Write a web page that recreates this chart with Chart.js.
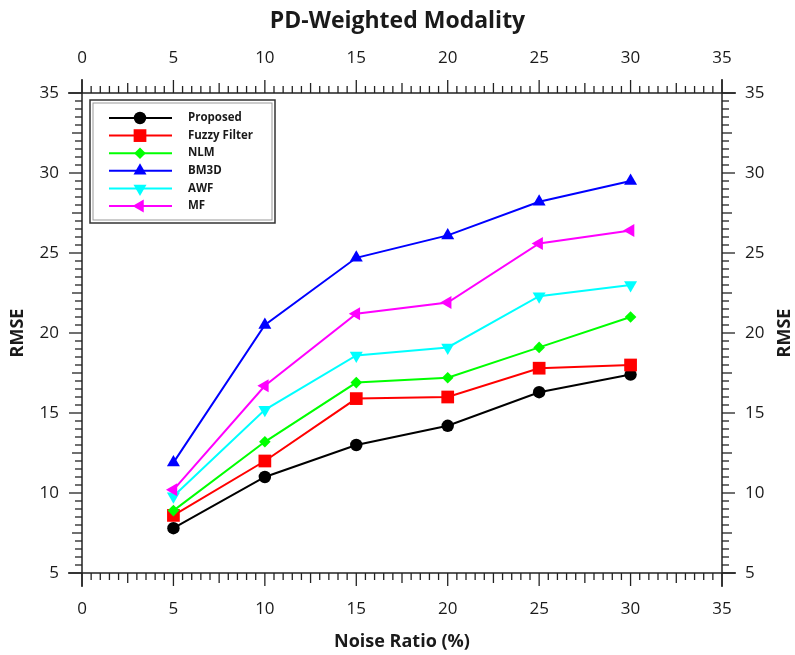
<!DOCTYPE html>
<html>
<head>
<meta charset="utf-8">
<script src="https://cdn.jsdelivr.net/npm/chart.js@4.4.1/dist/chart.umd.min.js"></script>
<style>
html, body { margin: 0; padding: 0; background: #fff; }
#wrap { width: 795px; height: 655px; }
</style>
</head>
<body>
<div id="wrap"><canvas id="chart" width="795" height="655"></canvas></div>
<script>
// values
var noiseRatio = [5, 10, 15, 20, 25, 30];
var proposed   = [7.8, 11.0, 13.0, 14.2, 16.3, 17.4];
var fuzzy      = [8.6, 12.0, 15.9, 16.0, 17.8, 18.0];
var nlm        = [8.9, 13.2, 16.9, 17.2, 19.1, 21.0];
var bm3d       = [11.9, 20.5, 24.7, 26.1, 28.2, 29.5];
var awf        = [9.8, 15.2, 18.6, 19.1, 22.3, 23.0];
var mf         = [10.2, 16.7, 21.2, 21.9, 25.6, 26.4];
var seriesNames = ['Proposed', 'Fuzzy Filter', 'NLM', 'BM3D', 'AWF', 'MF'];

Chart.defaults.font.family = "'Open Sans', 'Noto Sans', sans-serif";
Chart.defaults.color = '#1a1a1a';

function pts(ys) {
    return noiseRatio.map(function(x, i) { return {x: x, y: ys[i]}; });
}

function makeSet(i, ys, color, style, radius, rot) {
    return {
        label: seriesNames[i],
        data: pts(ys),
        borderColor: color,
        backgroundColor: color,
        borderWidth: 2,
        pointStyle: style,
        pointRadius: radius,
        pointHoverRadius: radius,
        pointRotation: rot,
        pointBorderWidth: 0,
        order: 10 - i
    };
}

var datasets = [
    makeSet(0, proposed, '#000000', 'circle', 6.2, 0),
    makeSet(1, fuzzy, '#ff0000', 'rect', 9, 0),
    makeSet(2, nlm, '#00ff00', 'rectRot', 5.8, 0),
    makeSet(3, bm3d, '#0000ff', 'triangle', 7.5, 0),
    makeSet(4, awf, '#00ffff', 'triangle', 7.5, 180),
    makeSet(5, mf, '#ff00ff', 'triangle', 7.5, 270)
];

var EXT = 14;

function drawScaleTicks(ctx, scale, side) {
    var steps = Math.round((scale.max - scale.min) * 2);
    for (var i = 0; i <= steps; i++) {
        var v = scale.min + i / 2;
        var k = Math.round(v * 2);
        var len = (k % 10 === 0) ? 13 : (k % 5 === 0 ? 10 : 7);
        var p = scale.getPixelForValue(v);
        ctx.beginPath();
        if (side === 'bottom') { ctx.moveTo(p, scale.top); ctx.lineTo(p, scale.top + len); }
        if (side === 'top') { ctx.moveTo(p, scale.bottom); ctx.lineTo(p, scale.bottom - len); }
        if (side === 'left') { ctx.moveTo(scale.right, p); ctx.lineTo(scale.right - len, p); }
        if (side === 'right') { ctx.moveTo(scale.left, p); ctx.lineTo(scale.left + len, p); }
        ctx.stroke();
    }
}

var framePlugin = {
    id: 'frame',
    afterDraw: function(chart) {
        var ctx = chart.ctx;
        var a = chart.chartArea;
        ctx.save();
        ctx.strokeStyle = '#222';
        ctx.lineWidth = 1.5;
        ctx.beginPath();
        ctx.moveTo(a.left - EXT, a.bottom); ctx.lineTo(a.right + EXT, a.bottom);
        ctx.moveTo(a.left - EXT, a.top); ctx.lineTo(a.right + EXT, a.top);
        ctx.moveTo(a.left, a.top - EXT); ctx.lineTo(a.left, a.bottom + EXT);
        ctx.moveTo(a.right, a.top - EXT); ctx.lineTo(a.right, a.bottom + EXT);
        ctx.stroke();
        ctx.lineWidth = 1.3;
        drawScaleTicks(ctx, chart.scales.x, 'bottom');
        drawScaleTicks(ctx, chart.scales.x2, 'top');
        drawScaleTicks(ctx, chart.scales.y, 'left');
        drawScaleTicks(ctx, chart.scales.y2, 'right');

        // right axis title, same reading direction as the left one
        ctx.fillStyle = '#1a1a1a';
        ctx.font = "bold 18px 'Open Sans', sans-serif";
        ctx.textAlign = 'center';
        ctx.textBaseline = 'middle';
        ctx.translate(chart.width - 10, (a.top + a.bottom) / 2);
        ctx.rotate(-Math.PI / 2);
        ctx.fillText('RMSE', 0, 0);
        ctx.restore();

        // legend box inside the plot
        var lx = a.left + 8, ly = a.top + 7, lw = 185, lh = 123;
        ctx.save();
        ctx.strokeStyle = '#333';
        ctx.lineWidth = 1.5;
        ctx.strokeRect(lx, ly, lw, lh);
        ctx.strokeStyle = '#999';
        ctx.lineWidth = 1;
        ctx.strokeRect(lx + 3, ly + 3, lw - 6, lh - 6);
        ctx.font = "bold 11.5px 'Open Sans', sans-serif";
        ctx.textAlign = 'left';
        ctx.textBaseline = 'middle';
        chart.data.datasets.forEach(function(ds, i) {
            var ry = ly + 18 + i * 17.6;
            ctx.strokeStyle = ds.borderColor;
            ctx.lineWidth = 2;
            ctx.beginPath();
            ctx.moveTo(lx + 19, ry); ctx.lineTo(lx + 82, ry);
            ctx.stroke();
            ctx.fillStyle = ds.backgroundColor;
            Chart.helpers.drawPoint(ctx, {
                pointStyle: ds.pointStyle,
                radius: ds.pointRadius,
                rotation: ds.pointRotation,
                borderWidth: 0
            }, lx + 50, ry);
            ctx.fillStyle = '#1a1a1a';
            ctx.fillText(ds.label, lx + 98, ry);
        });
        ctx.restore();
    }
};

function axisX(pos, fit, withTitle) {
    return {
        type: 'linear',
        position: pos,
        min: 0, max: 35,
        ticks: { stepSize: 5, font: { size: 17 }, padding: pos === 'bottom' ? 13 : 12, maxRotation: 0 },
        grid: { drawOnChartArea: false, tickLength: 13, tickColor: 'rgba(0,0,0,0)' },
        border: { display: false },
        title: withTitle ? { display: true, text: 'Noise Ratio (%)', font: { size: 18, weight: 'bold' }, padding: { top: 0, bottom: 2 } } : { display: false },
        afterFit: function(s) { s.height = fit; }
    };
}

function axisY(pos, fit, withTitle) {
    return {
        type: 'linear',
        position: pos,
        min: 5, max: 35,
        ticks: { stepSize: 5, font: { size: 17 }, padding: 10 },
        grid: { drawOnChartArea: false, tickLength: 13, tickColor: 'rgba(0,0,0,0)' },
        border: { display: false },
        title: withTitle ? { display: true, text: 'RMSE', font: { size: 18, weight: 'bold' }, padding: { top: 7, bottom: 0 } } : { display: false },
        afterFit: function(s) { s.width = fit; }
    };
}

new Chart(document.getElementById('chart'), {
    type: 'line',
    data: { datasets: datasets },
    options: {
        responsive: false,
        animation: false,
        devicePixelRatio: 1,
        layout: { padding: 0 },
        plugins: {
            legend: { display: false },
            tooltip: { enabled: false },
            title: {
                display: true,
                text: 'PD-Weighted Modality',
                font: { size: 23, weight: 'bold' },
                color: '#1a1a1a',
                padding: { top: 8, bottom: 0 }
            }
        },
        scales: {
            x: axisX('bottom', 82, true),
            x2: axisX('top', 93 - 35.6, false),
            y: axisY('left', 82, true),
            y2: axisY('right', 73, false)
        }
    },
    plugins: [framePlugin]
});
</script>
</body>
</html>
